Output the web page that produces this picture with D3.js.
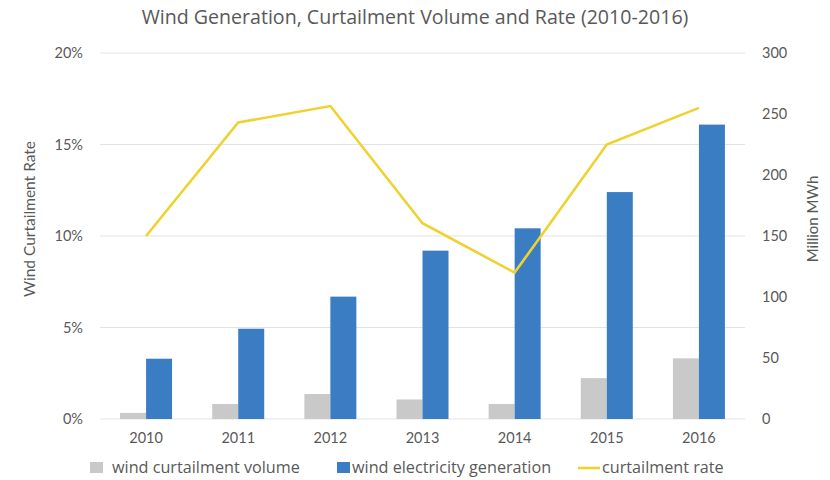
<!DOCTYPE html>
<html><head><meta charset="utf-8">
<script src="https://cdn.jsdelivr.net/npm/d3@7"></script>
<style>body{margin:0;background:#fff}svg{display:block}text{font-family:Lato,"Open Sans",sans-serif;fill:#595959}</style>
</head><body><svg id="c" width="830" height="480"></svg>
<script>
const years = ["2010","2011","2012","2013","2014","2015","2016"];
const curtailVolume = [5, 12.3, 20.5, 16, 12.3, 33.5, 49.7];
const generation = [49.4, 74, 100.3, 138, 156.3, 186, 241.3];
const curtailRate = [0.10, 0.162, 0.171, 0.107, 0.080, 0.150, 0.170];
const rateTicks = [0, 0.05, 0.10, 0.15, 0.20];
const valTicks = [0, 50, 100, 150, 200, 250, 300];
const seriesNames = ["wind curtailment volume", "wind electricity generation", "curtailment rate"];

const svg = d3.select("#c");
const L = 100, R = 745, T = 53, B = 419;
const x = d3.scaleBand().domain(years).range([L, R]).padding(0);
const xs = d3.scaleBand().domain(["vol","gen"]).range([0, x.bandwidth()]).paddingInner(0).paddingOuter(0.772);
const yRate = d3.scaleLinear().domain([0, 0.2]).range([B, T]);
const yVal = d3.scaleLinear().domain([0, 300]).range([B, T]);

// gridlines
svg.append("g").selectAll("line").data(rateTicks).join("line")
  .attr("x1", L).attr("x2", R).attr("y1", d => yRate(d)).attr("y2", d => yRate(d))
  .attr("stroke", "#e3e3e3").attr("stroke-width", 1);

// left axis
const la = svg.append("g").attr("transform", `translate(${L},0)`)
  .call(d3.axisLeft(yRate).tickValues(rateTicks).tickFormat(d3.format(".0%")).tickSize(0).tickPadding(17));
la.select(".domain").remove();
la.selectAll("text").attr("font-size", 14.5).attr("fill", "#595959").style("font-family", "Lato");

// right axis
const ra = svg.append("g").attr("transform", `translate(${R},0)`)
  .call(d3.axisRight(yVal).tickValues(valTicks).tickSize(0).tickPadding(17));
ra.select(".domain").remove();
ra.selectAll("text").attr("font-size", 14.5).attr("fill", "#595959").style("font-family", "Lato");

// x axis labels
const xa = svg.append("g").attr("transform", `translate(0,${B})`)
  .call(d3.axisBottom(x).tickSize(0).tickPadding(14));
xa.select(".domain").remove();
xa.selectAll("text").attr("font-size", 14.5).attr("fill", "#595959").style("font-family", "Lato");

// bars
const gBars = svg.append("g");
gBars.selectAll("rect.vol").data(years).join("rect").attr("class","vol")
  .attr("x", (d) => x(d) + xs("vol")).attr("width", xs.bandwidth())
  .attr("y", (d,i) => yVal(curtailVolume[i])).attr("height", (d,i) => B - yVal(curtailVolume[i]))
  .attr("fill", "#c9c9c9");
gBars.selectAll("rect.gen").data(years).join("rect").attr("class","gen")
  .attr("x", (d) => x(d) + xs("gen")).attr("width", xs.bandwidth())
  .attr("y", (d,i) => yVal(generation[i])).attr("height", (d,i) => B - yVal(generation[i]))
  .attr("fill", "#3a7dc3");

// line
const line = d3.line().x((d,i) => x(years[i]) + x.bandwidth()/2).y(d => yRate(d));
svg.append("path").datum(curtailRate).attr("d", line)
  .attr("fill", "none").attr("stroke", "#efd230").attr("stroke-width", 2.6).attr("stroke-linejoin","miter");

// title
svg.append("text").attr("x", 415).attr("y", 24).attr("text-anchor", "middle")
  .style("font-family", "'Open Sans'").attr("font-size", 19.6)
  .text("Wind Generation, Curtailment Volume and Rate (2010-2016)");

// axis titles
svg.append("text").attr("transform", "translate(35,219) rotate(-90)").attr("text-anchor","middle")
  .attr("font-size", 15.5).text("Wind Curtailment Rate");
svg.append("text").attr("transform", "translate(818,219) rotate(-90)").attr("text-anchor","middle")
  .attr("font-size", 15).text("Million MWh");

// legend
const lg = svg.append("g").attr("transform", "translate(0,468)");
const items = [
  {name: seriesNames[0], type: "rect", color: "#c9c9c9", x: 90},
  {name: seriesNames[1], type: "rect", color: "#3a7dc3", x: 337},
  {name: seriesNames[2], type: "line", color: "#efd230", x: 578}
];
items.forEach(it => {
  if (it.type === "rect") {
    lg.append("rect").attr("x", it.x).attr("y", -6).attr("width", 13).attr("height", 11).attr("fill", it.color);
    lg.append("text").attr("x", it.x + (it.x < 100 ? 22 : 15)).attr("y", 5)
      .style("font-family", "'Open Sans'").attr("font-size", 16.2).text(it.name);
  } else {
    lg.append("line").attr("x1", it.x).attr("x2", it.x + 22).attr("y1", 0).attr("y2", 0)
      .attr("stroke", it.color).attr("stroke-width", 2.6);
    lg.append("text").attr("x", it.x + 24).attr("y", 5)
      .style("font-family", "'Open Sans'").attr("font-size", 16.2).text(it.name);
  }
});
</script></body></html>
